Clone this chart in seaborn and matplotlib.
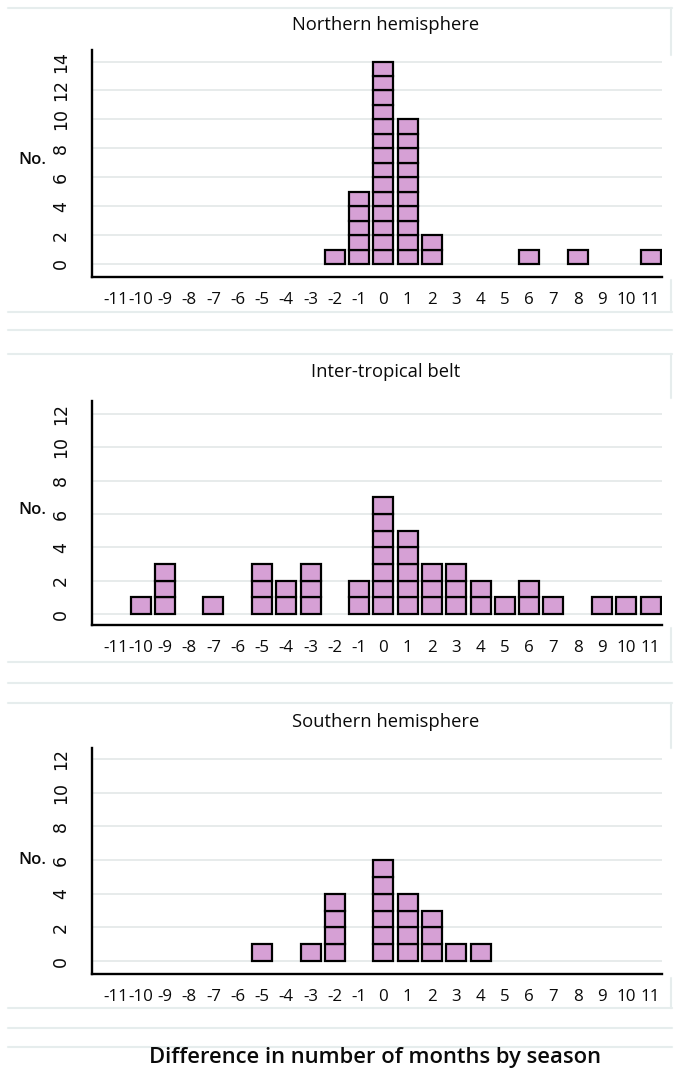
import matplotlib
matplotlib.use("Agg")
import matplotlib.pyplot as plt
import seaborn as sns
import pandas as pd
from matplotlib.lines import Line2D

# ---- data ----
months = list(range(-11, 12))
north_vals = [-2, -1, 0, 1, 2, 6, 8, 11]
north_counts = [1, 5, 14, 10, 2, 1, 1, 1]
tropic_vals = [-10, -9, -7, -5, -4, -3, -1, 0, 1, 2, 3, 4, 5, 6, 7, 9, 10, 11]
tropic_counts = [1, 3, 1, 3, 2, 3, 2, 7, 5, 3, 3, 2, 1, 2, 1, 1, 1, 1]
south_vals = [-5, -3, -2, 0, 1, 2, 3, 4]
south_counts = [1, 1, 4, 6, 4, 3, 1, 1]
titles = ["Northern hemisphere", "Inter-tropical belt", "Southern hemisphere"]
yticks_top = [0, 2, 4, 6, 8, 10, 12, 14]
yticks_other = [0, 2, 4, 6, 8, 10, 12]
xlabel = "Difference in number of months by season"

BAR_COLOR = "#d6a0d5"
GRID_COLOR = "#e3e8e8"
FRAME_COLOR = "#e6eded"
TEXT = "#0a0a0a"

sns.set_theme(style="white")
plt.rcParams["font.family"] = ["Open Sans", "DejaVu Sans"]

W, H = 680, 1071
fig = plt.figure(figsize=(W / 100, H / 100), dpi=100)


def expand(vals, counts):
    rows = []
    for v, c in zip(vals, counts):
        for lvl in range(1, c + 1):
            rows.append({"month": v, "level": lvl})
    return pd.DataFrame(rows)


panels = [
    (north_vals, north_counts, yticks_top, (-0.9, 14.8), 50, 277, 25, 160),
    (tropic_vals, tropic_counts, yticks_other, (-0.65, 12.77), 401, 625, 372, 510),
    (south_vals, south_counts, yticks_other, (-0.77, 12.65), 748, 974, 722, 860),
]

for (vals, counts, yt, ylim, top_px, bot_px, title_px, no_px), title in zip(panels, titles):
    left, right = 92 / W, 662 / W
    ax = fig.add_axes([left, 1 - bot_px / H, right - left, (bot_px - top_px) / H])
    df = expand(vals, counts)
    nlev = int(df["level"].max())
    sns.histplot(
        data=df, x="month", hue="level", multiple="stack", discrete=True,
        shrink=0.82, palette=[BAR_COLOR] * nlev, edgecolor="black",
        linewidth=1.6, alpha=1, legend=False, ax=ax, zorder=3,
    )
    for p in list(ax.patches):
        if p.get_height() == 0:
            p.remove()
    ax.set_xlim(-12.0, 11.47)
    ax.set_ylim(*ylim)
    ax.set_xticks(months)
    ax.set_xticklabels([str(m) for m in months], fontsize=12.2, color=TEXT)
    ax.set_yticks(yt)
    ax.set_yticklabels([str(v) for v in yt], rotation=90, va="center",
                       fontsize=12.5, family="DejaVu Sans", color=TEXT)
    ax.yaxis.grid(True, color=GRID_COLOR, linewidth=1.2, zorder=0)
    ax.xaxis.grid(False)
    ax.set_axisbelow(True)
    for s in ["top", "right"]:
        ax.spines[s].set_visible(False)
    for s in ["left", "bottom"]:
        ax.spines[s].set_color("black")
        ax.spines[s].set_linewidth(1.7)
    ax.tick_params(axis="x", direction="out", length=5, width=1.5, color="black", pad=6)
    ax.tick_params(axis="y", direction="out", length=4, width=1.5, color="black", pad=12)
    ax.set_xlabel("")
    ax.set_ylabel("")
    fig.text(386 / W, 1 - title_px / H, title, ha="center", va="center",
             fontsize=13.2, color=TEXT)
    fig.text(32 / W, 1 - no_px / H, "No.", ha="center", va="center",
             fontsize=12, fontweight="semibold", color=TEXT)

fig.text(375 / W, 1 - 1058 / H, xlabel, ha="center", va="center",
         fontsize=15.8, fontweight="semibold", color=TEXT)

# faint panel frames
def hline(y, x0=8, x1=672):
    fig.add_artist(Line2D([x0 / W, x1 / W], [1 - y / H, 1 - y / H],
                          color=FRAME_COLOR, linewidth=1.5, zorder=0))

def vline(x, y0, y1):
    fig.add_artist(Line2D([x / W, x / W], [1 - y0 / H, 1 - y1 / H],
                          color=FRAME_COLOR, linewidth=1.5, zorder=0))

for y in [8, 312, 330, 354, 662, 683, 703, 1008, 1028, 1047]:
    hline(y)
for y0, y1 in [(8, 55), (354, 398), (703, 748), (280, 312), (628, 662), (978, 1008)]:
    vline(671, y0, y1)

fig.savefig("out.png", dpi=100)
